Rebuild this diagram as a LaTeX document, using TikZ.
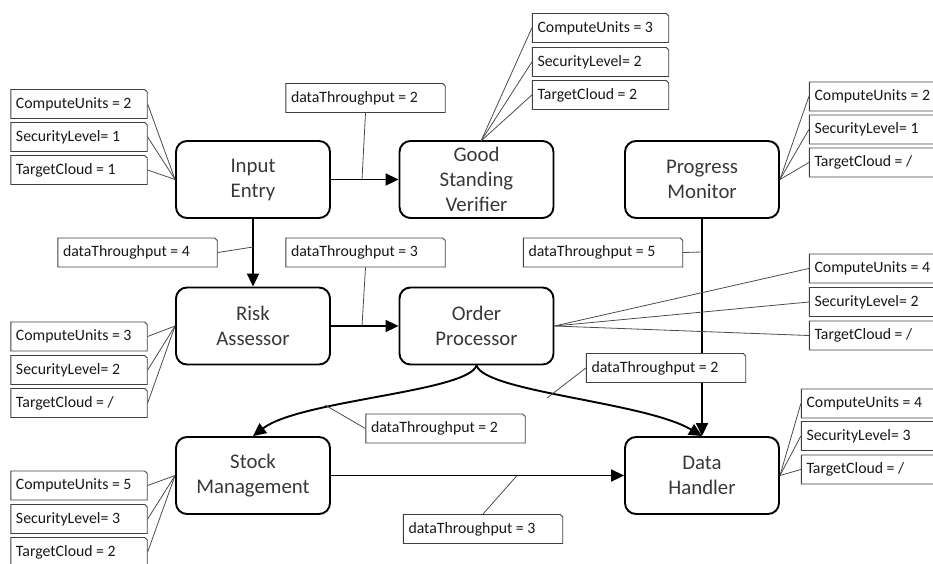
\documentclass[tikz,border=0pt]{standalone}
\usepackage{fontspec}
\setmainfont{Carlito}
\usetikzlibrary{arrows.meta,shapes.misc}
\begin{document}
\begin{tikzpicture}[x=1pt,y=-1pt,
  comp/.style={draw=black, line width=1.9pt, rounded corners=11pt, minimum width=154pt, minimum height=77pt, align=center, font=\fontsize{20.8}{25}\selectfont, text=black!78, inner sep=0pt},
  boxbase/.style={draw=black!75, line width=0.9pt, chamfered rectangle, chamfered rectangle corners=north east, chamfered rectangle xsep=1.2pt, chamfered rectangle ysep=1.2pt, minimum height=29pt, inner xsep=4pt, inner ysep=0pt, font=\fontsize{15.8}{18}\selectfont, fill=white, text=black!90},
  attr/.style={boxbase, execute at begin node={\hbox to 126pt\bgroup}, execute at end node={\hfil\egroup}},
  dt/.style={boxbase, execute at begin node={\hbox to 149pt\bgroup}, execute at end node={\hfil\egroup}},
  flow/.style={line width=1.9pt, -{Triangle[length=13pt,width=12pt]}},
  tie/.style={line width=0.8pt, draw=black!70}
]
\clip (0,0) rectangle (933,563);
\useasboundingbox (0,0) rectangle (933,563);

% main components
\node[comp] (ie) at (253,179.5) {Input\\Entry};
\node[comp] (gs) at (476.5,179.5) {Good\\Standing\\Verifier};
\node[comp] (pm) at (702,179.5) {Progress\\Monitor};
\node[comp] (ra) at (253,326) {Risk\\Assessor};
\node[comp] (op) at (476.5,326) {Order\\Processor};
\node[comp] (sm) at (253,475.5) {Stock\\Management};
\node[comp] (dh) at (702,475.5) {Data\\Handler};

% flows
\draw[flow] (ie.east) -- (gs.west);
\draw[flow] (ie.south) -- (ra.north);
\draw[flow] (ra.east) -- (op.west);
\draw[flow] (pm.south) -- (dh.north);
\draw[flow] (sm.east) -- (dh.west);
\draw[flow] (op.south) .. controls (468,392) and (300,400) .. (sm.north);
\draw[flow] (op.south) .. controls (485,392) and (645,402) .. (dh.north);

% points on flows
\coordinate (c1) at (362,179.5);
\coordinate (c2) at (253,247);
\coordinate (c3) at (362,326);
\coordinate (c4) at (702,252);
\coordinate (c5) at (325,405);
\coordinate (c6) at (547,398);
\coordinate (c7) at (517,475.5);

% throughput labels
\node[dt] (l1) at (365.5,98) {dataThroughput = 2};
\node[dt] (l2) at (137.5,252.5) {dataThroughput = 4};
\node[dt] (l3) at (365.5,252.5) {dataThroughput = 3};
\node[dt] (l4) at (603,252.5) {dataThroughput = 5};
\node[dt] (l5) at (445.5,428.5) {dataThroughput = 2};
\node[dt] (l6) at (666,368) {dataThroughput = 2};
\node[dt] (l7) at (483,529) {dataThroughput = 3};
\draw[tie] (l1.south) -- (c1);
\draw[tie] (l2.east) -- (c2);
\draw[tie] (l3.south) -- (c3);
\draw[tie] (l4.east) -- (c4);
\draw[tie] (l5.west) -- (c5);
\draw[tie] (l6.west) -- (c6);
\draw[tie] (l7.north) -- (c7);

% attributes: Input Entry
\node[attr] (ie1) at (79,104) {ComputeUnits = 2};
\node[attr] (ie2) at (79,137) {SecurityLevel= 1};
\node[attr] (ie3) at (79,170) {TargetCloud = 1};
\foreach \a in {ie1,ie2,ie3} \draw[tie] (\a.east) -- (ie.west);

% attributes: Risk Assessor
\node[attr] (ra1) at (79,336.5) {ComputeUnits = 3};
\node[attr] (ra2) at (79,370) {SecurityLevel= 2};
\node[attr] (ra3) at (79,403) {TargetCloud = /};
\foreach \a in {ra1,ra2,ra3} \draw[tie] (\a.east) -- (ra.west);

% attributes: Stock Management
\node[attr] (sm1) at (79,485.5) {ComputeUnits = 5};
\node[attr] (sm2) at (79,519) {SecurityLevel= 3};
\node[attr] (sm3) at (79,552) {TargetCloud = 2};
\foreach \a in {sm1,sm2,sm3} \draw[tie] (\a.east) -- (sm.west);

% attributes: Good Standing Verifier
\coordinate (gst) at (481,141);
\node[attr] (gs1) at (600.5,28) {ComputeUnits = 3};
\node[attr] (gs2) at (600.5,62) {SecurityLevel= 2};
\node[attr] (gs3) at (600.5,95) {TargetCloud = 2};
\foreach \a in {gs1,gs2,gs3} \draw[tie] (\a.west) -- (gst);

% attributes: Progress Monitor
\node[attr] (pm1) at (877.5,96.5) {ComputeUnits = 2};
\node[attr] (pm2) at (877.5,129.5) {SecurityLevel= 1};
\node[attr] (pm3) at (877.5,162.5) {TargetCloud = /};
\foreach \a in {pm1,pm2,pm3} \draw[tie] (\a.west) -- (pm.east);

% attributes: Order Processor
\node[attr] (op1) at (877.5,268.5) {ComputeUnits = 4};
\node[attr] (op2) at (877.5,302) {SecurityLevel= 2};
\node[attr] (op3) at (877.5,335.5) {TargetCloud = /};
\foreach \a in {op1,op2,op3} \draw[tie] (\a.west) -- (op.east);

% attributes: Data Handler
\node[attr] (dh1) at (869.5,403.5) {ComputeUnits = 4};
\node[attr] (dh2) at (869.5,436) {SecurityLevel= 3};
\node[attr] (dh3) at (869.5,469.5) {TargetCloud = /};
\foreach \a in {dh1,dh2,dh3} \draw[tie] (\a.west) -- (dh.east);
\end{tikzpicture}
\end{document}
